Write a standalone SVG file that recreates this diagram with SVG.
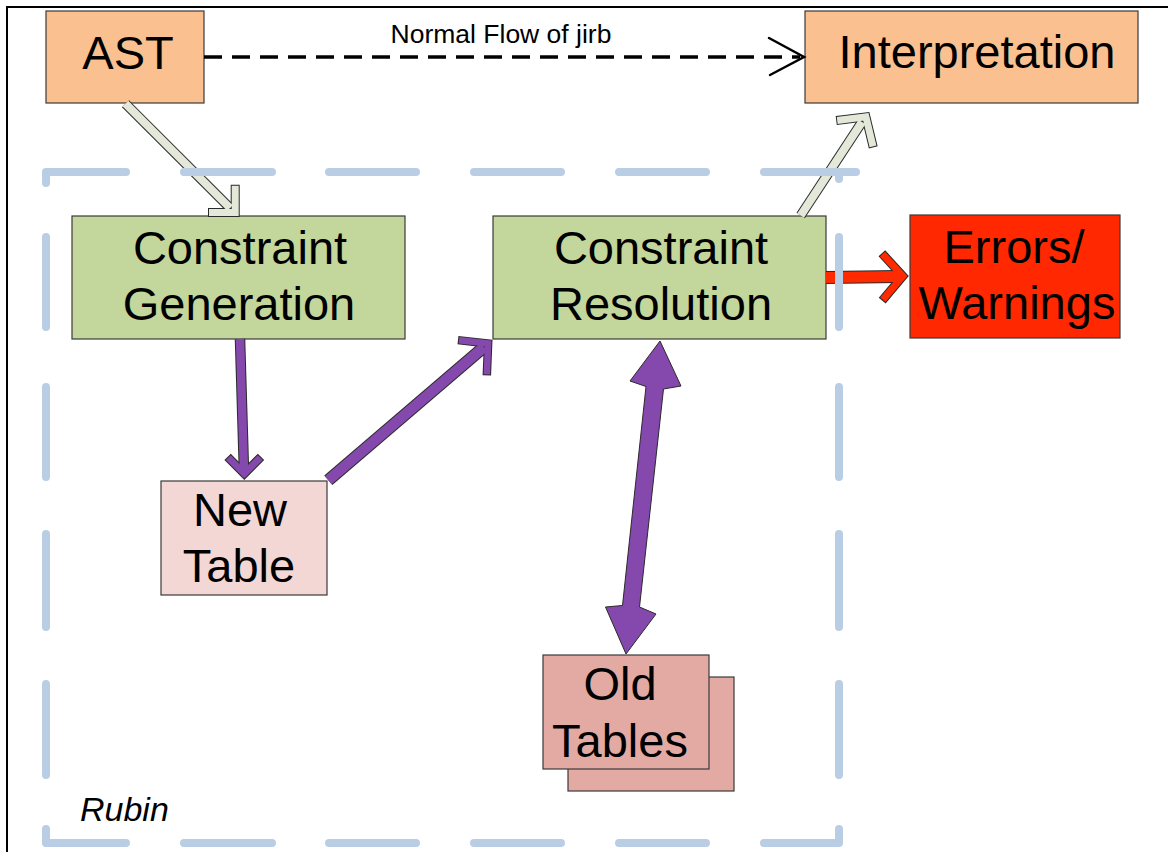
<svg xmlns="http://www.w3.org/2000/svg" width="1168" height="852" viewBox="0 0 1168 852">
<style>
  text { font-family: "Liberation Sans", Arial, sans-serif; fill: #000; }
  .big { font-size: 47px; text-anchor: middle; }
  .lbl { font-size: 26.5px; text-anchor: middle; }
  .rubin { font-size: 34px; font-style: italic; }
  .box { stroke: #3a3a3a; stroke-width: 1.2; }
  .orange { fill: #FAC090; }
  .green { fill: #C3D69B; }
  .red { fill: #FF2800; }
  .pink { fill: #F2D7D5; }
  .old { fill: #E3AAA4; }
  .o { fill: none; stroke: #2a2a2a; }
  .shaft { stroke-linecap: butt; stroke-linejoin: miter; }
  .chev { stroke-linecap: square; stroke-linejoin: miter; stroke-miterlimit: 6; fill: none; }
  .fl { fill: none; stroke: #E3E8D9; }
  .fp { fill: none; stroke: #8548AD; }
  .fr { fill: none; stroke: #FF2A00; }
  .dash { fill: none; stroke: #B9CDE4; stroke-width: 8; stroke-linecap: round; stroke-linejoin: round; }
  .flow { fill: none; stroke: #000; stroke-width: 3.5; stroke-dasharray: 18 10; }
  .openhead { fill: none; stroke: #000; stroke-width: 2.5; stroke-linecap: round; stroke-linejoin: miter; }
</style>

<!-- frame -->
<g id="frame">
  <line x1="6" y1="7" x2="1168" y2="7" stroke="#000" stroke-width="2"/>
  <line x1="7" y1="6" x2="7" y2="852" stroke="#000" stroke-width="2"/>
</g>

<!-- nodes -->
<g id="node-ast">
  <rect class="box orange" x="46" y="11" width="158" height="92"/>
  <text class="big" x="128" y="69">AST</text>
</g>
<g id="node-interpretation">
  <rect class="box orange" x="805" y="11" width="333" height="92"/>
  <text class="big" x="977" y="68">Interpretation</text>
</g>
<g id="node-constraint-generation">
  <rect class="box green" x="72" y="216" width="333" height="123"/>
  <text class="big" x="240" y="264">Constraint</text>
  <text class="big" x="239" y="320">Generation</text>
</g>
<g id="node-constraint-resolution">
  <rect class="box green" x="493" y="216" width="333" height="123"/>
  <text class="big" x="661" y="264">Constraint</text>
  <text class="big" x="661" y="320">Resolution</text>
</g>
<g id="node-errors">
  <rect class="box red" x="910" y="215" width="210" height="123"/>
  <text class="big" x="1014" y="263">Errors/</text>
  <text class="big" x="1017" y="319">Warnings</text>
</g>
<g id="node-new-table">
  <rect class="box pink" x="161" y="481" width="166" height="114"/>
  <text class="big" x="240" y="526">New</text>
  <text class="big" x="239" y="582">Table</text>
</g>
<g id="node-old-tables">
  <rect class="box old" x="568" y="677" width="166" height="114"/>
  <rect class="box old" x="543" y="655" width="166" height="114"/>
  <text class="big" x="620" y="700">Old</text>
  <text class="big" x="620" y="757">Tables</text>
</g>

<!-- connectors -->
<g id="connectors">
  <g id="edge-normal-flow">
    <line class="flow" x1="204" y1="57" x2="800" y2="57"/>
    <polyline class="openhead" points="769,38 804,57 770,75"/>
    <text class="lbl" x="501" y="43">Normal Flow of jirb</text>
  </g>

  <g id="edge-ast-cg">
    <path class="o shaft" stroke-width="10" d="M125.5,103.7 L230,208"/>
    <path class="o chev" stroke-width="9" d="M212.5,212.5 L235.2,212.5 L235.2,189.2"/>
    <path class="fl shaft" stroke-width="8" d="M125.5,103.7 L230,208"/>
    <path class="fl chev" stroke-width="7" d="M212.5,212.5 L235.2,212.5 L235.2,189.2"/>
  </g>

  <g id="edge-cg-newtable">
    <path class="o shaft" stroke-width="10.5" d="M240,339 L244,472"/>
    <path class="o chev" stroke-width="9" d="M230.8,460.1 L244.3,473.6 L257.8,460.1"/>
    <path class="fp shaft" stroke-width="8.5" d="M240,339 L244,472"/>
    <path class="fp chev" stroke-width="7" d="M230.8,460.1 L244.3,473.6 L257.8,460.1"/>
  </g>

  <g id="edge-newtable-cr">
    <path class="o shaft" stroke-width="12.5" d="M328.3,480.3 L484,347"/>
    <path class="o chev" stroke-width="8.5" d="M462.2,340.6 L488.1,343.5 L487,371.1"/>
    <path class="fp shaft" stroke-width="10.5" d="M328.3,480.3 L484,347"/>
    <path class="fp chev" stroke-width="6.5" d="M462.2,340.6 L488.1,343.5 L487,371.1"/>
  </g>

  <g id="edge-cr-oldtables">
    <polygon fill="#8548AD" stroke="#2a2a2a" stroke-width="1" stroke-linejoin="miter"
      points="660,341 681,386 663.5,389 639.5,607 656,614 626,654 605.5,607 622.5,605.5 646,386.5 630,381"/>
  </g>

  <g id="edge-cr-interp">
    <path class="o shaft" stroke-width="10" d="M800.7,215.5 L862,122"/>
    <path class="o chev" stroke-width="9" d="M840.7,120 L865.9,116.9 L872.2,143"/>
    <path class="fl shaft" stroke-width="8" d="M800.7,215.5 L862,122"/>
    <path class="fl chev" stroke-width="7" d="M840.7,120 L865.9,116.9 L872.2,143"/>
  </g>

  <g id="edge-cr-errors">
    <path class="o shaft" stroke-width="13" d="M826,277.6 L898,276.5"/>
    <path class="o chev" stroke-width="9" d="M884.9,256.6 L902.8,276.2 L885.1,297.1"/>
    <path class="fr shaft" stroke-width="11" d="M826,277.6 L898,276.5"/>
    <path class="fr chev" stroke-width="7" d="M884.9,256.6 L902.8,276.2 L885.1,297.1"/>
  </g>
</g>

<!-- Rubin boundary -->
<g id="rubin">
  <path class="dash" d="
    M46,183 L46,172 L126,172
    M184,172 L272,172 M329,172 L416,172 M474,172 L561,172 M619,172 L706,172 M764,172 L856,172
    M839,172 L839,179
    M46,237 L46,327 M46,387 L46,477 M46,534 L46,627 M46,684 L46,775
    M46,829 L46,843 L126,843
    M184,843 L272,843 M329,843 L416,843 M474,843 L561,843 M619,843 L706,843
    M764,843 L839,843 L839,829
    M839,237 L839,327 M839,387 L839,477 M839,534 L839,627 M839,684 L839,775"/>
  <text class="rubin" x="80" y="821">Rubin</text>
</g>
</svg>
